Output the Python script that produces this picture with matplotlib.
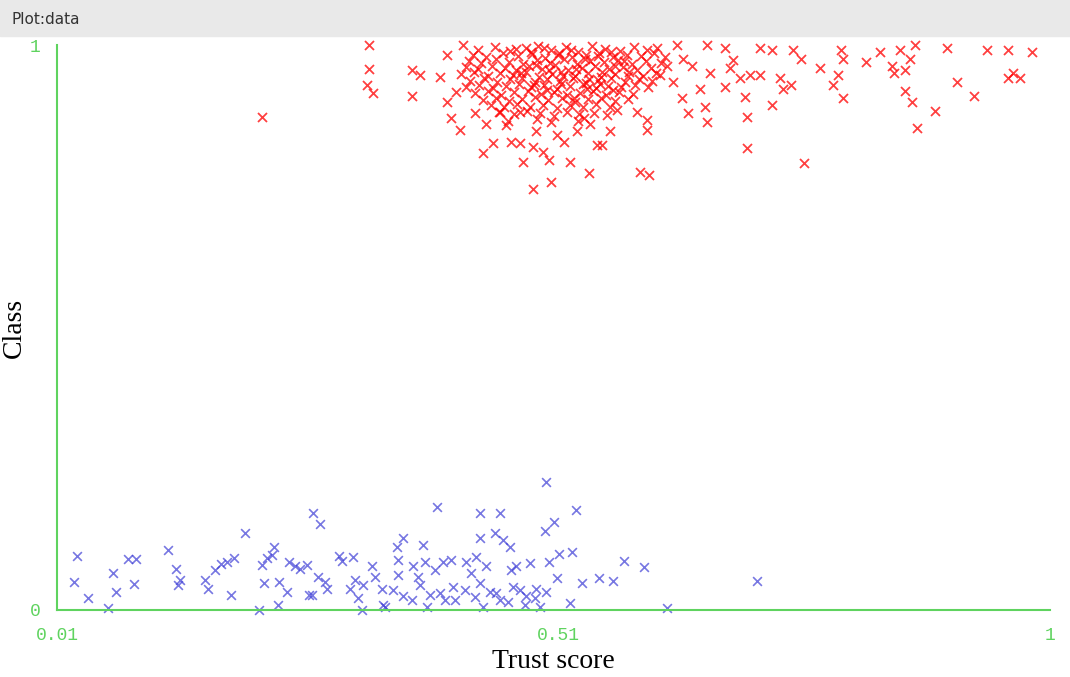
import matplotlib
matplotlib.use('Agg')
import matplotlib.pyplot as plt
from matplotlib.patches import Rectangle


# Pontos (trust score, classe com jitter)
blue_points = [
    (0.030, 0.096), (0.027, 0.050), (0.041, 0.022), (0.061, 0.003), (0.066, 0.065),
    (0.069, 0.032), (0.081, 0.090), (0.089, 0.090), (0.087, 0.046), (0.121, 0.106),
    (0.129, 0.072), (0.133, 0.053), (0.131, 0.044), (0.158, 0.053), (0.161, 0.038),
    (0.168, 0.071), (0.174, 0.081), (0.179, 0.085), (0.186, 0.092), (0.183, 0.027),
    (0.197, 0.137), (0.211, 0.000), (0.214, 0.080), (0.219, 0.092), (0.226, 0.112),
    (0.224, 0.097), (0.216, 0.047), (0.231, 0.050), (0.239, 0.031), (0.230, 0.009),
    (0.241, 0.085), (0.247, 0.077), (0.252, 0.072), (0.259, 0.080), (0.261, 0.027),
    (0.264, 0.027), (0.265, 0.171), (0.272, 0.152), (0.270, 0.059), (0.277, 0.050),
    (0.279, 0.038), (0.291, 0.096), (0.294, 0.087), (0.305, 0.093), (0.324, 0.077),
    (0.307, 0.053), (0.302, 0.038), (0.315, 0.044), (0.310, 0.021), (0.314, 0.000),
    (0.327, 0.059), (0.334, 0.038), (0.335, 0.009), (0.337, 0.006), (0.345, 0.035),
    (0.349, 0.112), (0.355, 0.127), (0.350, 0.088), (0.350, 0.062), (0.355, 0.024),
    (0.364, 0.018), (0.365, 0.077), (0.370, 0.059), (0.375, 0.115), (0.377, 0.085),
    (0.372, 0.044), (0.379, 0.006), (0.389, 0.183), (0.387, 0.071), (0.395, 0.085),
    (0.403, 0.088), (0.392, 0.030), (0.405, 0.041), (0.407, 0.018), (0.418, 0.085),
    (0.428, 0.094), (0.432, 0.127), (0.432, 0.171), (0.423, 0.065), (0.432, 0.047),
    (0.438, 0.077), (0.435, 0.006), (0.447, 0.136), (0.452, 0.171), (0.455, 0.124),
    (0.462, 0.112), (0.442, 0.032), (0.448, 0.030), (0.463, 0.071), (0.468, 0.077),
    (0.465, 0.041), (0.460, 0.015), (0.482, 0.083), (0.478, 0.024), (0.488, 0.038),
    (0.492, 0.006), (0.498, 0.032), (0.497, 0.139), (0.505, 0.156), (0.498, 0.227),
    (0.501, 0.085), (0.510, 0.100), (0.508, 0.056), (0.523, 0.103), (0.527, 0.177),
    (0.521, 0.012), (0.533, 0.047), (0.550, 0.056), (0.564, 0.052), (0.575, 0.087),
    (0.595, 0.076), (0.618, 0.003), (0.708, 0.051), (0.382, 0.027), (0.397, 0.018),
    (0.417, 0.035), (0.427, 0.023), (0.452, 0.018), (0.472, 0.035), (0.477, 0.009),
    (0.487, 0.021),
]

red_points = [
    # pontos espalhados
    (0.321, 1.000), (0.321, 0.957), (0.319, 0.929), (0.325, 0.915), (0.364, 0.956),
    (0.372, 0.947), (0.364, 0.910), (0.392, 0.944), (0.399, 0.982), (0.415, 1.000),
    (0.399, 0.900), (0.408, 0.917), (0.403, 0.870), (0.412, 0.850), (0.427, 0.879),
    (0.438, 0.861), (0.445, 0.826), (0.435, 0.808), (0.463, 0.829), (0.472, 0.826),
    (0.475, 0.793), (0.485, 0.820), (0.485, 0.746), (0.503, 0.758), (0.495, 0.811),
    (0.501, 0.796), (0.521, 0.793), (0.515, 0.829), (0.540, 0.773), (0.548, 0.823),
    (0.458, 0.858), (0.488, 0.847), (0.508, 0.841), (0.528, 0.847), (0.535, 0.870),
    (0.452, 0.882), (0.472, 0.882), (0.591, 0.776), (0.600, 0.770), (0.598, 0.850),
    (0.598, 0.867), (0.588, 0.882), (0.561, 0.847), (0.558, 0.876), (0.553, 0.823),
    (0.568, 0.885), (0.639, 0.879), (0.656, 0.891), (0.658, 0.864), (0.696, 0.908),
    (0.698, 0.873), (0.698, 0.818), (0.723, 0.894), (0.755, 0.791), (0.651, 0.923),
    (0.676, 0.926), (0.633, 0.906), (0.624, 0.935), (0.611, 0.947), (0.661, 0.950),
    (0.684, 0.973), (0.676, 0.994), (0.658, 1.000), (0.628, 1.000), (0.711, 0.994),
    (0.723, 0.991), (0.744, 0.991), (0.752, 0.975), (0.771, 0.959), (0.711, 0.947),
    (0.731, 0.941), (0.742, 0.929), (0.734, 0.923), (0.784, 0.929), (0.789, 0.947),
    (0.794, 0.906), (0.792, 0.991), (0.794, 0.976), (0.691, 0.941), (0.701, 0.947),
    (0.681, 0.959), (0.643, 0.962), (0.634, 0.976), (0.616, 0.979), (0.608, 0.994),
    (0.817, 0.970), (0.831, 0.988), (0.850, 0.991), (0.865, 1.000), (0.860, 0.976),
    (0.842, 0.962), (0.844, 0.950), (0.855, 0.956), (0.855, 0.919), (0.862, 0.900),
    (0.885, 0.883), (0.867, 0.853), (0.897, 0.994), (0.907, 0.935), (0.924, 0.910),
    (0.937, 0.991), (0.958, 0.991), (0.982, 0.988), (0.958, 0.941), (0.963, 0.950),
    (0.970, 0.941), (0.214, 0.873),
    # nucleo denso
    (0.430, 0.992), (0.447, 0.997), (0.462, 0.989), (0.478, 0.995), (0.490, 0.999),
    (0.503, 0.991), (0.517, 0.996), (0.529, 0.988), (0.543, 0.998), (0.556, 0.993),
    (0.571, 0.990), (0.585, 0.997), (0.598, 0.992),
    (0.425, 0.983), (0.438, 0.978), (0.455, 0.986), (0.470, 0.980), (0.484, 0.984),
    (0.497, 0.977), (0.510, 0.985), (0.523, 0.979), (0.537, 0.982), (0.550, 0.986),
    (0.564, 0.978), (0.578, 0.983), (0.592, 0.980), (0.605, 0.985),
    (0.421, 0.972), (0.433, 0.968), (0.448, 0.975), (0.461, 0.970), (0.475, 0.966),
    (0.489, 0.973), (0.502, 0.969), (0.515, 0.976), (0.528, 0.967), (0.541, 0.972),
    (0.555, 0.970), (0.569, 0.974), (0.583, 0.966), (0.597, 0.971), (0.612, 0.968),
    (0.418, 0.961), (0.430, 0.957), (0.444, 0.963), (0.457, 0.959), (0.468, 0.955),
    (0.481, 0.962), (0.494, 0.958), (0.506, 0.964), (0.519, 0.956), (0.533, 0.960),
    (0.546, 0.963), (0.560, 0.957), (0.574, 0.961), (0.588, 0.955), (0.602, 0.959),
    (0.618, 0.962),
    (0.413, 0.948), (0.426, 0.952), (0.440, 0.945), (0.452, 0.950), (0.465, 0.947),
    (0.478, 0.953), (0.491, 0.944), (0.504, 0.949), (0.512, 0.952), (0.526, 0.946),
    (0.539, 0.951), (0.552, 0.944), (0.566, 0.949), (0.580, 0.953), (0.594, 0.946),
    (0.607, 0.950),
    (0.422, 0.937), (0.436, 0.941), (0.449, 0.934), (0.462, 0.939), (0.474, 0.942),
    (0.487, 0.935), (0.499, 0.940), (0.511, 0.936), (0.524, 0.941), (0.537, 0.933),
    (0.549, 0.938), (0.562, 0.942), (0.576, 0.935), (0.590, 0.939), (0.603, 0.936),
    (0.418, 0.926), (0.431, 0.930), (0.445, 0.924), (0.458, 0.928), (0.471, 0.931),
    (0.483, 0.925), (0.496, 0.929), (0.508, 0.923), (0.521, 0.927), (0.534, 0.931),
    (0.547, 0.924), (0.559, 0.928), (0.572, 0.926), (0.586, 0.930), (0.599, 0.925),
    (0.427, 0.915), (0.440, 0.918), (0.453, 0.912), (0.466, 0.916), (0.480, 0.919),
    (0.493, 0.913), (0.505, 0.917), (0.518, 0.911), (0.531, 0.915), (0.544, 0.918),
    (0.557, 0.912), (0.570, 0.916), (0.584, 0.914),
    (0.435, 0.903), (0.448, 0.906), (0.461, 0.901), (0.474, 0.905), (0.487, 0.908),
    (0.500, 0.902), (0.513, 0.906), (0.526, 0.900), (0.539, 0.904), (0.552, 0.907),
    (0.566, 0.901), (0.579, 0.905),
    (0.443, 0.893), (0.456, 0.890), (0.469, 0.895), (0.482, 0.891), (0.495, 0.894),
    (0.508, 0.889), (0.521, 0.893), (0.534, 0.890), (0.547, 0.895), (0.561, 0.891),
    (0.451, 0.881), (0.466, 0.877), (0.479, 0.883), (0.492, 0.879), (0.505, 0.875),
    (0.518, 0.882), (0.530, 0.878), (0.545, 0.880),
    (0.460, 0.866), (0.489, 0.869), (0.503, 0.863), (0.529, 0.866), (0.541, 0.860),
    (0.468, 0.993), (0.483, 0.988), (0.496, 0.994), (0.509, 0.982), (0.522, 0.991),
    (0.536, 0.975), (0.549, 0.980), (0.562, 0.987), (0.575, 0.971), (0.488, 0.964),
    (0.501, 0.955), (0.514, 0.945), (0.527, 0.958), (0.540, 0.940), (0.553, 0.953),
    (0.566, 0.962), (0.579, 0.945), (0.473, 0.950), (0.486, 0.929), (0.499, 0.920),
    (0.512, 0.931), (0.525, 0.906), (0.538, 0.922), (0.551, 0.931), (0.564, 0.920),
]

x_ticks = [0.01, 0.51, 1.0]
x_tick_labels = ['0.01', '0.51', '1']
y_ticks = [0, 1]
y_tick_labels = ['0', '1']

green = '#5fd35f'

fig = plt.figure(figsize=(10.7, 6.77), dpi=100)
fig.patches.append(Rectangle((0, 1 - 36 / 677), 1, 36 / 677, transform=fig.transFigure,
                             color='#e9e9e9', zorder=0))
fig.text(12 / 1070, 1 - 19 / 677, 'Plot:data', fontsize=11, color='#333333',
         va='center', ha='left', family='DejaVu Sans')

ax = fig.add_axes([57 / 1070, 67 / 677, 993 / 1070, 565 / 677])

bx, by = zip(*blue_points)
rx, ry = zip(*red_points)
ax.scatter(bx, by, marker='x', s=40, linewidths=1.2, color='#3d3dd6', alpha=0.7, clip_on=False)
ax.scatter(rx, ry, marker='x', s=42, linewidths=1.3, color='#ff0000', alpha=0.75, clip_on=False)

ax.set_xlim(0.01, 1.0)
ax.set_ylim(0, 1)
for s in ['top', 'right']:
    ax.spines[s].set_visible(False)
for s in ['left', 'bottom']:
    ax.spines[s].set_color(green)
    ax.spines[s].set_linewidth(1.5)

ax.set_xticks(x_ticks)
ax.set_xticklabels(x_tick_labels, family='Liberation Mono', fontsize=13, color=green)
ax.set_yticks(y_ticks)
ax.set_yticklabels(y_tick_labels, family='Liberation Mono', fontsize=13, color=green)
ax.tick_params(axis='x', length=0, pad=12)
ax.tick_params(axis='y', length=0, pad=12)

ax.set_xlabel('Trust score', family='Liberation Serif', fontsize=20, labelpad=4)
ax.set_ylabel('Class', family='Liberation Serif', fontsize=20, labelpad=2)

plt.savefig('out.png', dpi=100)
plt.close()
